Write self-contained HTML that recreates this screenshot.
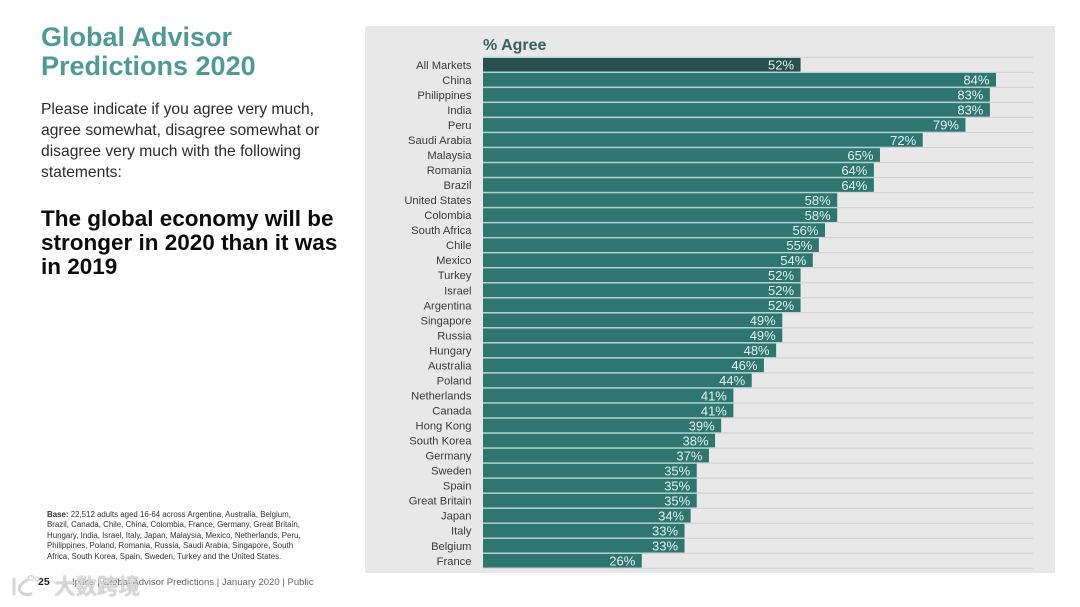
<!DOCTYPE html>
<html lang="en">
<head>
<meta charset="utf-8">
<style>
html,body{margin:0;padding:0;background:#fff;}
#page{position:relative;width:1080px;height:607px;overflow:hidden;background:#fff;font-family:"Liberation Sans",sans-serif;}
.t{position:absolute;white-space:nowrap;}
svg{position:absolute;left:0;top:0;}
</style>
</head>
<body>
<div id="page">
  <div class="t" style="left:41px;top:23px;font-size:27px;line-height:29px;font-weight:bold;color:#4f9a96;">Global Advisor<br>Predictions 2020</div>
  <div class="t" style="left:41px;top:99px;font-size:15.65px;line-height:21px;color:#2b2b2b;">Please indicate if you agree very much,<br>agree somewhat, disagree somewhat or<br>disagree very much with the following<br>statements:</div>
  <div class="t" style="left:41px;top:207px;font-size:22.5px;line-height:24px;font-weight:bold;color:#0c0c0c;">The global economy will be<br>stronger in 2020 than it was<br>in 2019</div>
  <div class="t" style="left:47px;top:510px;font-size:7.9px;line-height:10.4px;color:#333;"><b>Base:</b> 22,512 adults aged 16-64 across Argentina, Australia, Belgium,<br>Brazil, Canada, Chile, China, Colombia, France, Germany, Great Britain,<br>Hungary, India, Israel, Italy, Japan, Malaysia, Mexico, Netherlands, Peru,<br>Philippines, Poland, Romania, Russia, Saudi Arabia, Singapore, South<br>Africa, South Korea, Spain, Sweden, Turkey and the United States.</div>
  <div class="t" style="left:38px;top:576px;font-size:10.5px;line-height:13px;font-weight:bold;color:#222;">25</div>
  <div class="t" style="left:72px;top:576px;font-size:9.55px;line-height:13px;color:#666;">Ipsos | Global Advisor Predictions | January 2020 | Public</div>
  <svg id="chart" width="1080" height="607" viewBox="0 0 1080 607" xmlns="http://www.w3.org/2000/svg"></svg>
  <svg width="1080" height="607" viewBox="0 0 1080 607" xmlns="http://www.w3.org/2000/svg">
    <path d="M14 579 V594 M27 580 Q17 586 20 591 Q24 596 31 594" fill="none" stroke="#d4d4d4" stroke-width="3" stroke-linecap="round"/>
    <circle cx="31" cy="578" r="2.5" fill="none" stroke="#d4d4d4" stroke-width="1.2"/>
    <circle cx="37" cy="579" r="2" fill="none" stroke="#d4d4d4" stroke-width="1.2"/>
  </svg>
  <div class="t" style="left:54px;top:574px;font-size:21.5px;line-height:26px;color:rgba(255,255,255,.55);text-shadow:0 0 1.5px #aaa,0 0 1px #aaa;font-family:'Liberation Sans','Noto Sans CJK SC',sans-serif;">大数跨境</div>
</div>
<script>
const categories = ["All Markets","China","Philippines","India","Peru","Saudi Arabia","Malaysia","Romania","Brazil","United States","Colombia","South Africa","Chile","Mexico","Turkey","Israel","Argentina","Singapore","Russia","Hungary","Australia","Poland","Netherlands","Canada","Hong Kong","South Korea","Germany","Sweden","Spain","Great Britain","Japan","Italy","Belgium","France"];
const agreeValues = [52,84,83,83,79,72,65,64,64,58,58,56,55,54,52,52,52,49,49,48,46,44,41,41,39,38,37,35,35,35,34,33,33,26];

const NS = "http://www.w3.org/2000/svg";
const svg = document.getElementById("chart");
const xScale = v => 483 + v * 6.107;
const yScale = i => 58 + i * 15.03;
const BAR_H = 13.6;

function add(parent, tag, attrs, text) {
  const el = document.createElementNS(NS, tag);
  for (const k in attrs) el.setAttribute(k, attrs[k]);
  if (text !== undefined) el.textContent = text;
  parent.appendChild(el);
  return el;
}

const panel = add(svg, "rect", {x:365, y:26, width:690, height:547, fill:"#e8e8e8"});



const header = add(svg, "text", {x:483, y:50, "font-size":16, "font-weight":"bold", fill:"#3d5f5c", "font-family":"Liberation Sans, sans-serif"}, "% Agree");



categories.forEach((cat, i) => {
  const y = yScale(i);
  const v = agreeValues[i];
  const cy = y + BAR_H / 2;

  const grid = add(svg, "line", {x1:483, x2:1033, y1:y - 0.7, y2:y - 0.7, stroke:"#cfcfcf", "stroke-width":1});
  
  

  const sep = add(svg, "line", {x1:483, x2:xScale(v), y1:y - 0.7, y2:y - 0.7, stroke:"#a5d3cf", "stroke-width":1});
  
  

  const bar = add(svg, "rect", {x:483, y:y, width:xScale(v) - 483, height:BAR_H, fill: i === 0 ? "#264f4e" : "#2f7570"});
  
  

  const label = add(svg, "text", {x:471.5, y:cy + 4, "text-anchor":"end", "font-size":11.2, fill:"#3a3a3a", "font-family":"Liberation Sans, sans-serif"}, cat);
  
  

  const val = add(svg, "text", {x:xScale(v) - 6.5, y:cy + 4.8, "text-anchor":"end", "font-size":13, fill:"#e4f3f1", "font-family":"Liberation Sans, sans-serif"}, v + "%");
  
  
});

const baseLine = add(svg, "line", {x1:483, x2:1033, y1:yScale(categories.length - 1) + BAR_H + 0.6, y2:yScale(categories.length - 1) + BAR_H + 0.6, stroke:"#cfcfcf", "stroke-width":1});


</script>
</body>
</html>
